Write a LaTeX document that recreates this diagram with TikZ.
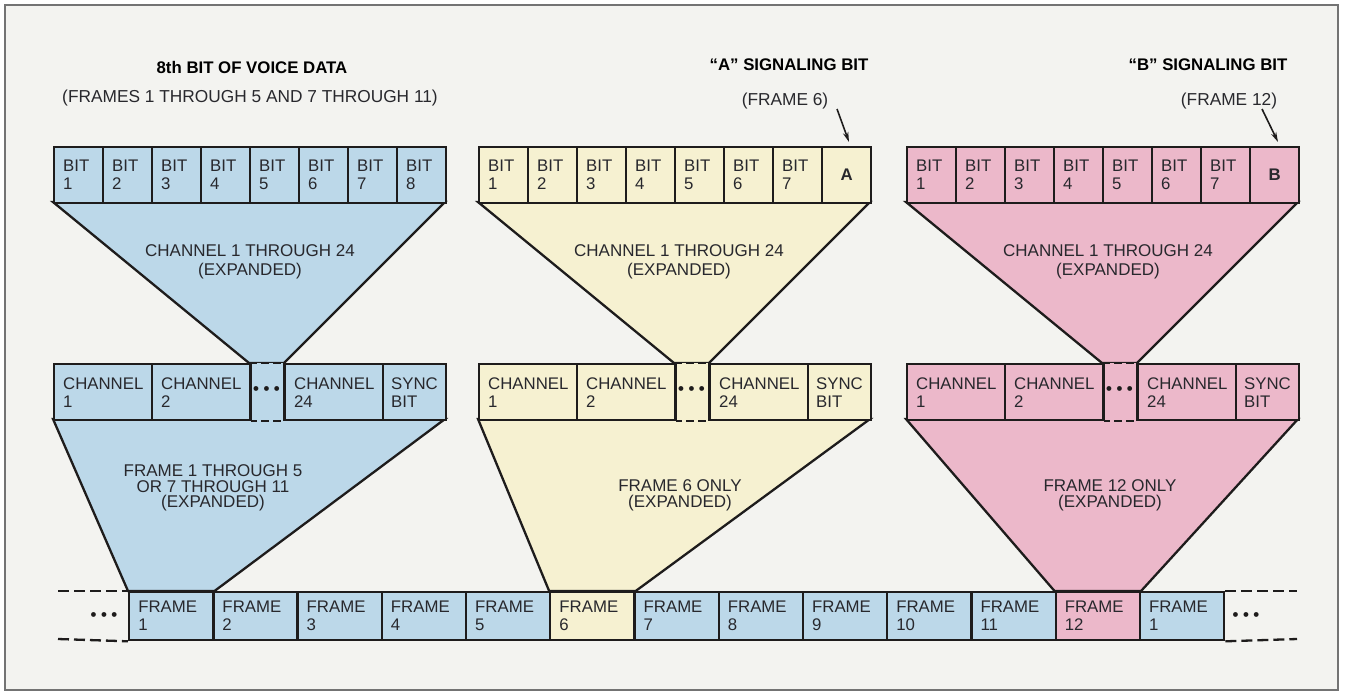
\documentclass[tikz,border=0pt]{standalone}
\usepackage{fontspec}
\setmainfont{Liberation Sans}
\usetikzlibrary{arrows.meta}
\definecolor{cBlue}{RGB}{188,216,233}
\definecolor{cYel}{RGB}{246,241,209}
\definecolor{cPink}{RGB}{236,184,202}
\definecolor{cBg}{RGB}{243,243,240}
\definecolor{cInk}{RGB}{30,28,28}
\definecolor{cTxt}{RGB}{40,40,45}
\tikzset{
  outl/.style={draw=cInk, line width=2.3pt, line join=miter},
  cellbox/.style={outl, anchor=north west, inner xsep=9pt, inner ysep=0pt,
    align=left, text=cTxt, font=\fontsize{16.8}{18}\selectfont},
  bitcell/.style={cellbox, minimum width=49pt, text width=31pt, minimum height=56pt},
  sigcell/.style={outl, anchor=north west, minimum width=49pt, minimum height=56pt,
    inner sep=0pt, text=cTxt, font=\fontsize{16.8}{18}\selectfont\bfseries},
  chcell/.style={cellbox, minimum width=98pt, text width=80pt, minimum height=56pt},
  synccell/.style={cellbox, inner xsep=8pt, minimum width=63pt, text width=47pt, minimum height=56pt},
  frcell/.style={cellbox, minimum width=84.23pt, text width=66pt, minimum height=48pt},
  gapdots/.style={inner sep=0pt, text=cInk, font=\fontsize{16.8}{18}\selectfont\bfseries},
  gapdash/.style={outl, dash pattern=on 8pt off 4pt, dash phase=2pt},
  rowdash/.style={outl, dash pattern=on 11pt off 5pt},
  ttl/.style={inner sep=0pt, text=black, font=\fontsize{16.8}{18}\selectfont\bfseries},
  subttl/.style={inner sep=0pt, text=cTxt, font=\fontsize{17.3}{18}\selectfont},
  traptxt/.style={inner sep=0pt, align=center, text=cTxt, font=\fontsize{17}{19}\selectfont},
  traptxtb/.style={inner sep=0pt, align=center, text=cTxt, font=\fontsize{17}{15.8}\selectfont},
  ptr/.style={draw=cInk, line width=1.6pt, -{Stealth[length=10pt,width=5.5pt]}}
}
% #1 prefix, #2 left x, #3 colour, #4 last cell content (empty = BIT 8)
\newcommand{\mkbits}[4]{%
  \foreach \i in {1,...,7}{
    \node[bitcell, fill=#3] (#1b\i) at ({#2+(\i-1)*49},146) {BIT\\\i};
  }
  \ifx&#4&
    \node[bitcell, fill=#3] (#1b8) at ({#2+7*49},146) {BIT\\8};
  \else
    \node[sigcell, fill=#3] (#1b8) at ({#2+7*49},146) {#4};
  \fi
}
\newcommand{\mkchans}[3]{%
  \node[chcell, fill=#3] (#1c1) at (#2,363) {CHANNEL\\1};
  \node[chcell, fill=#3] (#1c2) at ({#2+98},363) {CHANNEL\\2};
  \node[chcell, fill=#3] (#1c24) at ({#2+231},363) {CHANNEL\\24};
  \node[synccell, fill=#3] (#1sy) at ({#2+329},363) {SYNC\\BIT};
  \fill[#3] (#1c2.north east) rectangle (#1c24.south west);
  \draw[gapdash] (#1c2.north east) -- (#1c24.north west);
  \draw[gapdash] (#1c2.south east) -- (#1c24.south west);
  \draw[outl] (#1c2.north east) -- (#1c2.south east);
  \draw[outl] (#1c24.north west) -- (#1c24.south west);
  \node[gapdots] (#1gap) at ({#2+213.5},391) {•\hspace{4.5pt}•\hspace{4.5pt}•};
}
\begin{document}
\begin{tikzpicture}[x=1pt,y=-1pt]
\useasboundingbox (0,0) rectangle (1348,694);
\fill[white] (0,0) rectangle (1348,694);
\draw[fill=cBg, draw=black!55, line width=1.3pt] (5,5) rectangle (1338,690);

% ---- frame row (nodes first so trapezoids can refer to them)
\foreach \i/\lab/\col in {1/1/cBlue,2/2/cBlue,3/3/cBlue,4/4/cBlue,5/5/cBlue,
  6/6/cYel,7/7/cBlue,8/8/cBlue,9/9/cBlue,10/10/cBlue,11/11/cBlue,12/12/cPink,13/1/cBlue}{
  \node[frcell, fill=\col] (f\i) at ({128+(\i-1)*84.23},591) {FRAME\\\lab};
}

% ---- trapezoids (drawn under the rows)
\draw[outl, fill=cBlue] (53,202) -- (445,202) -- (284,363) -- (249,363) -- cycle;
\draw[outl, fill=cYel] (478,202) -- (870,202) -- (709,363) -- (674,363) -- cycle;
\draw[outl, fill=cPink] (906,202) -- (1298,202) -- (1137,363) -- (1102,363) -- cycle;
\draw[outl, fill=cBlue] (53,419) -- (445,419) -- (f1.north east) -- (f1.north west) -- cycle;
\draw[outl, fill=cYel] (478,419) -- (870,419) -- (f6.north east) -- (f6.north west) -- cycle;
\draw[outl, fill=cPink] (906,419) -- (1298,419) -- (f12.north east) -- (f12.north west) -- cycle;

% redraw the three expanded frame cells on top of trapezoid edges
\foreach \i/\lab/\col in {1/1/cBlue,6/6/cYel,12/12/cPink}{
  \node[frcell, fill=\col] (g\i) at ({128+(\i-1)*84.23},591) {FRAME\\\lab};
}

% ---- bit rows
\mkbits{L}{53}{cBlue}{}
\mkbits{M}{478}{cYel}{A}
\mkbits{R}{906}{cPink}{B}

% ---- channel rows
\mkchans{L}{53}{cBlue}
\mkchans{M}{478}{cYel}
\mkchans{R}{906}{cPink}

% ---- frame row continuation
\coordinate (dlt) at (58,591);
\coordinate (dlb) at (58,639);
\coordinate (drt) at (1297,591);
\coordinate (drb) at (1297,639);
\draw[rowdash] (dlt) -- (f1.north west);
\draw[rowdash] (dlb) -- (f1.south west);
\draw[rowdash] (f13.north east) -- (drt);
\draw[rowdash] (f13.south east) -- (drb);
\node[gapdots] (dotL) at (104,617) {•\hspace{4.5pt}•\hspace{4.5pt}•};
\node[gapdots] (dotR) at (1246,617) {•\hspace{4.5pt}•\hspace{4.5pt}•};

% ---- titles
\node[ttl] (tL1) at (252,67) {8th BIT OF VOICE DATA};
\node[subttl] (tL2) at (250,98) {(FRAMES 1 THROUGH 5 AND 7 THROUGH 11)};
\node[ttl] (tM1) at (789,65) {“A” SIGNALING BIT};
\node[subttl] (tM2) at (785,101) {(FRAME 6)};
\node[ttl] (tR1) at (1208,65) {“B” SIGNALING BIT};
\node[subttl] (tR2) at (1229,101) {(FRAME 12)};

\coordinate (aAs) at (837,109);
\coordinate (aAe) at (849,142);
\coordinate (aBs) at (1262,109);
\coordinate (aBe) at (1278,142);
\draw[ptr] (aAs) -- (aAe);
\draw[ptr] (aBs) -- (aBe);

% ---- trapezoid texts
\node[traptxt] (xL1) at (250,262) {CHANNEL 1 THROUGH 24\\(EXPANDED)};
\node[traptxt] (xM1) at (679,262) {CHANNEL 1 THROUGH 24\\(EXPANDED)};
\node[traptxt] (xR1) at (1108,262) {CHANNEL 1 THROUGH 24\\(EXPANDED)};
\node[traptxtb] (xL2) at (213,488) {FRAME 1 THROUGH 5\\OR 7 THROUGH 11\\(EXPANDED)};
\node[traptxtb] (xM2) at (680,495) {FRAME 6 ONLY\\(EXPANDED)};
\node[traptxtb] (xR2) at (1110,495) {FRAME 12 ONLY\\(EXPANDED)};
\end{tikzpicture}
\end{document}
